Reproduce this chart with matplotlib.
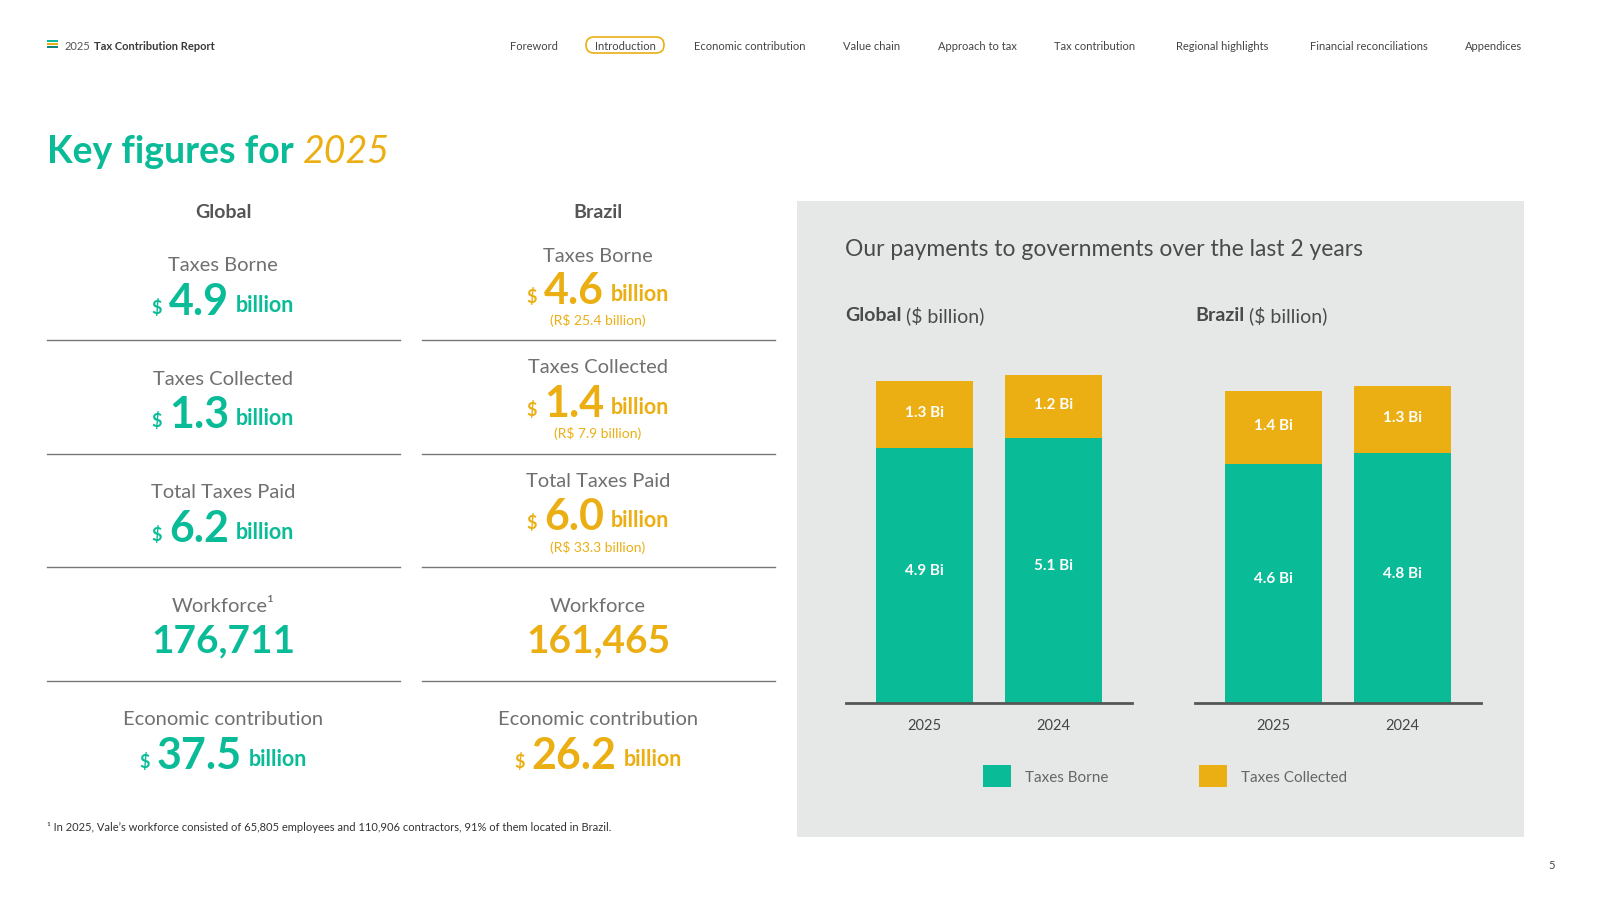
import numpy as np
import matplotlib.pyplot as plt
from matplotlib.patches import Rectangle, FancyBboxPatch

W, H = 1602, 904
TEAL = '#0ABB98'
GOLD = '#EBAF14'
GREY_TXT = '#555555'
LABEL_TXT = '#707070'
PANEL = '#E6E8E8'

plt.rcParams['font.family'] = ['Lato', 'DejaVu Sans']

# --- 資料 ---
years = ['2025', '2024']
global_borne = [4.9, 5.1]
global_collected = [1.3, 1.2]
brazil_borne = [4.6, 4.8]
brazil_collected = [1.4, 1.3]

kpi_labels = ['Taxes Borne', 'Taxes Collected', 'Total Taxes Paid', 'Workforce', 'Economic contribution']
global_values = ['4.9', '1.3', '6.2', '176,711', '37.5']
brazil_values = ['4.6', '1.4', '6.0', '161,465', '26.2']
brazil_brl = ['(R$ 25.4 billion)', '(R$ 7.9 billion)', '(R$ 33.3 billion)', None, None]

nav_items = ['Foreword', 'Introduction', 'Economic contribution', 'Value chain', 'Approach to tax',
             'Tax contribution', 'Regional highlights', 'Financial reconciliations', 'Appendices']
nav_x = [534, 625, 750, 872, 977, 1095, 1222, 1369, 1494]

fig = plt.figure(figsize=(W / 100, H / 100), dpi=100)
fig.patch.set_facecolor('white')

# 全畫面座標 (像素)
bg = fig.add_axes([0, 0, 1, 1])
bg.set_xlim(0, W)
bg.set_ylim(H, 0)
bg.axis('off')
r = fig.canvas.get_renderer()


def text_w(s, **kw):
    t = bg.text(0, 0, s, **kw)
    w = t.get_window_extent(r).width
    t.remove()
    return w


# --- 頁首 ---
for i, c in enumerate([TEAL, GOLD, '#12857A']):
    bg.add_patch(Rectangle((47, 40.5 + i * 3.3), 11, 2, color=c, lw=0))
bg.text(65, 46, '2025', fontsize=8, color=GREY_TXT, va='center')
bg.text(65 + text_w('2025 ', fontsize=8), 46, 'Tax Contribution Report', fontsize=8,
        color='#3A3A3A', va='center', weight='bold')

for name, x in zip(nav_items, nav_x):
    bg.text(x, 46, name, fontsize=8, color='#444444', ha='center', va='center')
bg.add_patch(FancyBboxPatch((586, 38), 78, 16, boxstyle='round,pad=0,rounding_size=8',
                            fc='none', ec=GOLD, lw=1.2))

# --- 標題 ---
bg.text(47, 152, 'Key figures for ', fontsize=27, color=TEAL, weight='bold', va='center')
bg.text(47 + text_w('Key figures for ', fontsize=27, weight='bold'), 152, '2025', fontsize=27,
        color=GOLD, style='italic', weight='normal', va='center')


# --- KPI 欄 ---
def value_line(cx, y, num, color):
    if ',' in num:
        bg.text(cx, y, num, fontsize=28, color=color, weight='bold', ha='center', va='center')
        return
    # "$ 4.9 billion" 三段式排列
    ws = [text_w('$', fontsize=13, weight='bold'),
          text_w(num, fontsize=31, weight='bold'),
          text_w('billion', fontsize=15.5, weight='bold')]
    gap = 7
    x = cx - (sum(ws) + 2 * gap) / 2
    bg.text(x, y + 6, '$', fontsize=13, weight='bold', color=color, va='center')
    x += ws[0] + gap
    bg.text(x, y, num, fontsize=31, weight='bold', color=color, va='center')
    x += ws[1] + gap
    bg.text(x, y + 4, 'billion', fontsize=15.5, weight='bold', color=color, va='center')


bg.text(223, 213, 'Global', fontsize=14, weight='bold', color=GREY_TXT, ha='center', va='center')
bg.text(598, 213, 'Brazil', fontsize=14, weight='bold', color=GREY_TXT, ha='center', va='center')

g_label_y = [266, 380, 493, 607, 720]
g_value_y = [302, 415, 529, 641, 756]
b_label_y = [256, 368, 482, 607, 720]
b_value_y = [291, 404, 517, 641, 756]
b_sub_y = [321, 434, 548, None, None]

for i, lab in enumerate(kpi_labels):
    glab = lab + '\u00b9' if lab == 'Workforce' else lab
    bg.text(223, g_label_y[i], glab, fontsize=14.5, color=LABEL_TXT, ha='center', va='center')
    value_line(223, g_value_y[i], global_values[i], TEAL)
    bg.text(598, b_label_y[i], lab, fontsize=14.5, color=LABEL_TXT, ha='center', va='center')
    value_line(598, b_value_y[i], brazil_values[i], GOLD)
    if brazil_brl[i]:
        bg.text(598, b_sub_y[i], brazil_brl[i], fontsize=10, color=GOLD, ha='center', va='center')

for y in [341, 455, 568, 682]:
    bg.plot([47, 400], [y, y], color='#777777', lw=1)
    bg.plot([422, 775], [y, y], color='#777777', lw=1)

bg.text(47, 828, '\u00b9 In 2025, Vale\u2019s workforce consisted of 65,805 employees and 110,906 contractors, '
        '91% of them located in Brazil.', fontsize=8, color='#333333', va='center')
bg.text(1552, 866, '5', fontsize=8, color='#444444', ha='center', va='center')

# --- 灰色面板 ---
bg.add_patch(Rectangle((797, 202), 727, 636, color=PANEL, lw=0, zorder=0))
bg.text(845, 250, 'Our payments to governments over the last 2 years', fontsize=16.5, color='#4A4A4A', va='center')
for x0, name in [(845, 'Global'), (1195, 'Brazil')]:
    bg.text(x0, 316, name, fontsize=14, weight='bold', color='#4A4A4A', va='center')
    bg.text(x0 + text_w(name + ' ', fontsize=14, weight='bold'), 316, '($ billion)',
            fontsize=14, color='#4A4A4A', va='center')


# --- 長條圖 ---
def bar_axes(x0, x1, borne, collected):
    top, base = 340, 704
    ax = fig.add_axes([x0 / W, 1 - base / H, (x1 - x0) / W, (base - top) / H])
    ax.set_facecolor('none')
    pos = np.arange(len(years))
    b1 = ax.bar(pos, borne, width=0.75, color=TEAL, label='Taxes Borne')
    b2 = ax.bar(pos, collected, width=0.75, bottom=borne, color=GOLD, label='Taxes Collected')
    for p, v, c in zip(pos, borne, collected):
        ax.text(p, v / 2 + 0.1, f'{v} Bi', ha='center', va='center', color='white', fontsize=11, weight='bold')
        ax.text(p, v + c / 2 + 0.05, f'{c} Bi', ha='center', va='center', color='white', fontsize=11, weight='bold')
    ax.set_xlim(-0.61, 1.61)
    ax.set_ylim(0, (base - top) / 52)
    ax.set_xticks(pos)
    ax.set_xticklabels(years, fontsize=10.5, color='#444444')
    ax.tick_params(axis='x', length=0, pad=11)
    ax.set_yticks([])
    for s in ['top', 'left', 'right']:
        ax.spines[s].set_visible(False)
    ax.spines['bottom'].set_color('#555555')
    ax.spines['bottom'].set_linewidth(2)
    return b1, b2


h1, h2 = bar_axes(846, 1132, global_borne, global_collected)
bar_axes(1195, 1481, brazil_borne, brazil_collected)

fig.legend([h1, h2], ['Taxes Borne', 'Taxes Collected'], loc='center left',
           bbox_to_anchor=(983 / W, 1 - 777 / H), ncol=2, frameon=False,
           fontsize=11, labelcolor='#666666', handlelength=1.85, handleheight=1.85,
           handletextpad=0.9, columnspacing=5.9, borderpad=0, borderaxespad=0)

fig.savefig('out.png', dpi=100, facecolor='white')
